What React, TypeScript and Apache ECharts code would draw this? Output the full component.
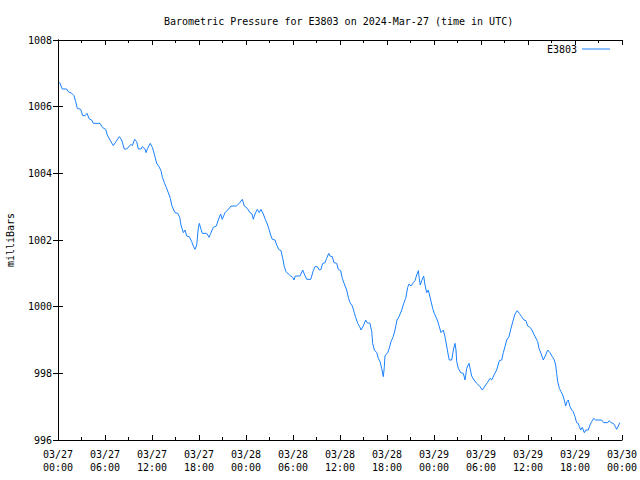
import React, { useEffect, useRef } from "react";
import * as echarts from "echarts";

// hours since 2024-03-27 00:00 UTC
const hours: number[] = [
  0.2, 0.55, 1.11, 1.31, 1.75, 2.04, 2.26, 2.46, 2.9, 3.15, 3.45, 3.7, 4.0, 4.3, 4.51, 5.36, 5.71, 6.09, 6.29, 6.64,
  7.06, 7.4, 7.83, 8.13, 8.46, 8.77, 9.32, 9.49, 9.79, 10.05, 10.25, 10.6, 10.76, 11.11, 11.24, 11.45, 11.78, 12.06, 12.29,
  12.6, 12.89, 13.15, 13.31, 13.57, 13.79, 14.08, 14.34, 14.51, 14.77, 14.94, 15.28, 15.54, 15.7, 16.0, 16.21, 16.43,
  16.76, 17.07, 17.27, 17.49, 17.71, 17.91, 18.04, 18.22, 18.42, 18.98, 19.28, 19.49, 19.83, 20.21, 20.46, 20.77, 20.97,
  21.32, 21.66, 22.09, 22.76, 23.14, 23.53, 23.78, 24.17, 24.51, 24.77, 24.93, 25.15, 25.44, 25.7, 25.91, 26.21, 26.46,
  26.72, 26.94, 27.15, 27.36, 27.7, 27.92, 28.17, 28.47, 28.69, 28.89, 29.11, 29.4, 29.71, 29.96, 30.13, 30.29, 30.89,
  31.24, 31.44, 31.75, 32.26, 32.59, 32.81, 33.1, 33.36, 33.57, 33.79, 34.09, 34.3, 34.56, 34.72, 35.02, 35.23, 35.58,
  35.78, 36.09, 36.29, 36.55, 36.85, 37.06, 37.28, 37.57, 37.83, 38.0, 38.26, 38.51, 38.68, 38.97, 39.28, 39.45, 39.83,
  40.05, 40.17, 40.38, 40.69, 40.89, 41.11, 41.32, 41.53, 41.66, 41.74, 42.09, 42.29, 42.51, 42.8, 43.02, 43.28, 43.57,
  43.88, 44.13, 44.39, 44.64, 44.81, 45.06, 45.36, 45.57, 45.79, 46.0, 46.12, 46.25, 46.43, 46.68, 46.85, 47.07, 47.27,
  47.58, 47.83, 48.04, 48.13, 48.42, 48.68, 48.89, 49.19, 49.4, 49.62, 49.82, 49.95, 50.26, 50.47, 50.68, 50.81, 50.9,
  51.1, 51.41, 51.74, 51.96, 52.17, 52.47, 52.6, 52.81, 53.11, 53.45, 53.87, 54.17, 54.51, 54.81, 55.15, 55.37, 55.66,
  56.0, 56.34, 56.64, 56.85, 57.06, 57.28, 57.57, 57.83, 58.12, 58.34, 58.63, 58.89, 59.19, 59.49, 59.74, 59.96, 60.17,
  60.51, 60.8, 61.24, 61.4, 61.66, 61.95, 62.26, 62.51, 62.81, 63.1, 63.36, 63.53, 63.66, 63.79, 64.0, 64.21, 64.43,
  64.63, 64.81, 64.98, 65.14, 65.36, 65.58, 65.78, 66.0, 66.21, 66.42, 66.55, 66.73, 66.93, 67.19, 67.4, 67.7, 67.91,
  68.13, 68.39, 68.64, 69.41, 69.66, 70.17, 70.38, 70.6, 70.89, 71.11, 71.32, 71.53, 71.71,
];

const pressure: number[] = [
  1006.73, 1006.53, 1006.53, 1006.45, 1006.4, 1006.33, 1006.15, 1005.95, 1005.92, 1005.73, 1005.73, 1005.8, 1005.63,
  1005.6, 1005.5, 1005.5, 1005.37, 1005.32, 1005.15, 1005.0, 1004.83, 1004.95, 1005.1, 1005.0, 1004.73, 1004.73,
  1004.87, 1004.83, 1005.02, 1004.95, 1004.73, 1004.73, 1004.8, 1004.73, 1004.62, 1004.75, 1004.9, 1004.77, 1004.58,
  1004.3, 1004.2, 1004.08, 1003.9, 1003.72, 1003.6, 1003.42, 1003.25, 1003.05, 1002.9, 1002.82, 1002.8, 1002.68,
  1002.45, 1002.22, 1002.3, 1002.12, 1002.1, 1001.95, 1001.82, 1001.72, 1001.85, 1002.35, 1002.5, 1002.35, 1002.2,
  1002.2, 1002.08, 1002.2, 1002.38, 1002.42, 1002.6, 1002.78, 1002.62, 1002.82, 1002.9, 1003.02, 1003.02, 1003.1,
  1003.22, 1003.02, 1002.95, 1002.82, 1002.78, 1002.62, 1002.78, 1002.92, 1002.82, 1002.92, 1002.78, 1002.62, 1002.48,
  1002.32, 1002.15, 1002.02, 1002.0, 1001.85, 1001.72, 1001.68, 1001.45, 1001.2, 1001.05, 1000.98, 1000.92, 1000.88,
  1000.8, 1000.92, 1000.92, 1001.1, 1000.98, 1000.82, 1000.82, 1001.08, 1001.2, 1001.2, 1001.1, 1001.12, 1001.3,
  1001.32, 1001.45, 1001.6, 1001.52, 1001.5, 1001.32, 1001.3, 1001.12, 1001.08, 1000.85, 1000.68, 1000.5, 1000.28,
  1000.12, 1000.02, 999.82, 999.68, 999.5, 999.4, 999.3, 999.42, 999.6, 999.52, 999.5, 999.25, 998.9, 998.7, 998.62,
  998.45, 998.35, 998.15, 997.9, 998.2, 998.52, 998.62, 998.75, 998.95, 999.1, 999.3, 999.6, 999.72, 999.9, 1000.1,
  1000.25, 1000.58, 1000.68, 1000.62, 1000.72, 1000.78, 1000.95, 1001.08, 1000.85, 1000.65, 1000.78, 1000.92, 1000.65,
  1000.42, 1000.5, 1000.2, 999.95, 999.8, 999.75, 999.6, 999.4, 999.22, 999.3, 999.1, 998.82, 998.55, 998.4, 998.4,
  998.7, 998.9, 998.7, 998.35, 998.15, 998.02, 998.0, 997.8, 998.15, 998.3, 998.15, 997.92, 997.8, 997.7, 997.6,
  997.5, 997.62, 997.72, 997.85, 997.8, 997.95, 998.1, 998.38, 998.4, 998.62, 998.8, 999.0, 999.1, 999.35, 999.6,
  999.78, 999.88, 999.8, 999.7, 999.6, 999.58, 999.42, 999.4, 999.3, 999.15, 998.95, 998.75, 998.6, 998.4, 998.55,
  998.7, 998.62, 998.5, 998.4, 998.25, 998.0, 997.75, 997.55, 997.45, 997.35, 997.2, 997.02, 997.15, 997.2, 997.0,
  996.9, 996.85, 996.7, 996.52, 996.5, 996.4, 996.3, 996.38, 996.22, 996.3, 996.3, 996.45, 996.55, 996.65, 996.6,
  996.6, 996.52, 996.52, 996.58, 996.52, 996.5, 996.42, 996.32, 996.42, 996.52,
];

const xTickLabels: string[] = [
  "03/27\n00:00", "03/27\n06:00", "03/27\n12:00", "03/27\n18:00",
  "03/28\n00:00", "03/28\n06:00", "03/28\n12:00", "03/28\n18:00",
  "03/29\n00:00", "03/29\n06:00", "03/29\n12:00", "03/29\n18:00",
  "03/30\n00:00",
];

const FONT = "DejaVu Sans Mono";

export default function App() {
  const ref = useRef<HTMLDivElement>(null);
  useEffect(() => {
    if (!ref.current) return;
    const chart = echarts.init(ref.current, undefined, { renderer: "svg" });
    const data = hours.map((h, i) => [h, pressure[i]]);
    const axisLine = { show: true, lineStyle: { color: "#000", width: 1 } };
    chart.setOption({
      animation: false,
      backgroundColor: "#fff",
      title: {
        text: "Barometric Pressure for E3803 on 2024-Mar-27 (time in UTC)",
        left: 159,
        top: 11,
        textStyle: { fontFamily: FONT, fontSize: 10, fontWeight: "normal", color: "#000" },
      },
      legend: {
        data: [{ name: "E3803", icon: "rect" }],
        right: 25,
        top: 39,
        align: "right",
        itemWidth: 28,
        itemHeight: 1,
        itemGap: 5,
        textStyle: { fontFamily: FONT, fontSize: 10, color: "#000" },
      },
      grid: { left: 58, right: 18, top: 40, bottom: 40, containLabel: false, outerBoundsMode: "none" },
      xAxis: [
        {
          type: "value",
          min: 0,
          max: 72,
          interval: 6,
          axisLine,
          axisTick: { show: true, inside: true, length: 5, lineStyle: { color: "#000" } },
          minorTick: { show: true, splitNumber: 2, length: 3, lineStyle: { color: "#000" } },
          splitLine: { show: false },
          axisLabel: {
            fontFamily: FONT,
            fontSize: 10,
            color: "#000",
            lineHeight: 13,
            margin: 8,
            formatter: (v: number) => xTickLabels[Math.round(v / 6)] ?? "",
          },
        },
        {
          type: "value",
          position: "top",
          min: 0,
          max: 72,
          interval: 6,
          axisLine,
          axisTick: { show: true, inside: true, length: 5, lineStyle: { color: "#000" } },
          minorTick: { show: true, splitNumber: 2, length: 3, lineStyle: { color: "#000" } },
          splitLine: { show: false },
          axisLabel: { show: false },
        },
      ],
      yAxis: [
        {
          type: "value",
          min: 996,
          max: 1008,
          interval: 2,
          name: "milliBars",
          nameLocation: "middle",
          nameRotate: 90,
          nameGap: 43,
          nameTextStyle: { fontFamily: FONT, fontSize: 10, color: "#000" },
          axisLine,
          axisTick: { show: true, inside: true, length: 5, lineStyle: { color: "#000" } },
          splitLine: { show: false },
          axisLabel: {
            fontFamily: FONT,
            fontSize: 10,
            color: "#000",
            margin: 6,
            formatter: (v: number) => String(Math.round(v)),
          },
        },
        {
          type: "value",
          position: "right",
          min: 996,
          max: 1008,
          interval: 2,
          axisLine,
          axisTick: { show: true, inside: true, length: 5, lineStyle: { color: "#000" } },
          splitLine: { show: false },
          axisLabel: { show: false },
        },
      ],
      series: [
        {
          name: "E3803",
          type: "line",
          data,
          showSymbol: false,
          symbol: "none",
          lineStyle: { color: "#1a80ff", width: 1 },
          itemStyle: { color: "#1a80ff" },
        },
      ],
    });
    return () => chart.dispose();
  }, []);
  return <div ref={ref} style={{ position: "fixed", left: 0, top: 0, width: 640, height: 480 }} />;
}
